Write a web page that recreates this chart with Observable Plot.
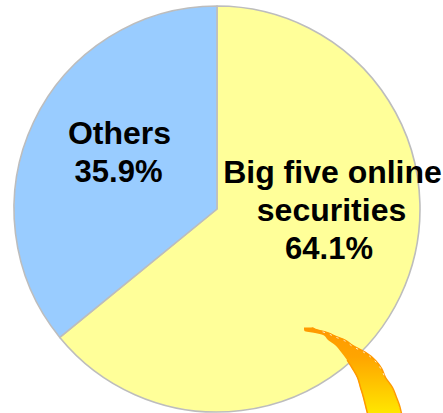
<!DOCTYPE html>
<html>
<head>
<meta charset="utf-8">
<style>
  html, body { margin: 0; padding: 0; background: #fff; }
  svg { display: block; }
</style>
<script src="https://cdn.jsdelivr.net/npm/d3@7"></script>
<script src="https://cdn.jsdelivr.net/npm/@observablehq/plot@0.6"></script>
</head>
<body>
<script>
// Market share of online securities brokers
const segments = ["Big five online securities", "Others"];
const shares = [64.1, 35.9];
const segmentColors = ["#ffff99", "#99ccff"];

// Decorative ribbon outline, measured top to bottom
const ribbonY = [327.5, 329, 331, 333, 335, 340, 345, 352, 360, 368, 377, 387, 397, 405, 413];
const ribbonLeft = [304, 304, 304.5, 315, 323, 328, 335, 341, 347, 352, 357, 360, 363, 365, 367];
const ribbonRight = [312, 315, 323, 329, 333, 345, 352, 365, 375, 381, 385, 392, 396, 399, 401];

const centerX = 217, centerY = 209, outerRadius = 203;

const slices = d3.pie().sort(null).value(d => d)(shares).map((a, i) => ({
  name: segments[i],
  startAngle: a.startAngle,
  endAngle: a.endAngle,
  cx: centerX,
  cy: centerY
}));

// One entry per printed line, so each can be centred on its own
const labels = [
  {x: 332, y: 172, text: "Big five online", size: 32},
  {x: 331, y: 210.5, text: "securities", size: 32},
  {x: 328.5, y: 249, text: shares[0].toFixed(1) + "%", size: 31},
  {x: 119, y: 133, text: "Others", size: 32},
  {x: 118, y: 172, text: shares[1].toFixed(1) + "%", size: 31}
];

const ribbon = ribbonY.map((y, i) => ({y, left: ribbonLeft[i], right: ribbonRight[i]}));

// Draws each slice with d3.arc, sized through the x scale and filled by the color scale
function renderSlices(index, scales, values) {
  const g = d3.create("svg:g");
  const r = scales.x(centerX + outerRadius) - scales.x(centerX);
  const arc = d3.arc().innerRadius(0).outerRadius(r);
  for (const i of index) {
    g.append("path")
      .attr("transform", `translate(${values.x[i]},${values.y[i]})`)
      .attr("d", arc(slices[i]))
      .attr("fill", values.fill[i])
      .attr("stroke", "#bdbdbd")
      .attr("stroke-width", 1.6)
      .attr("stroke-linejoin", "round");
  }
  return g.node();
}

const chart = Plot.plot({
  width: 443,
  height: 413,
  margin: 0,
  x: {domain: [0, 443], range: [0, 443], axis: null},
  y: {domain: [0, 413], range: [0, 413], axis: null},
  color: {domain: segments, range: segmentColors},
  marks: [
    Plot.dot(slices, {x: "cx", y: "cy", fill: "name", render: renderSlices}),
    Plot.areaX(ribbon, {
      y: "y", x1: "left", x2: "right",
      fill: "url(#ribbonFill)", curve: "monotone-y"
    }),
    Plot.line(ribbon, {x: "right", y: "y", stroke: "#ff9900", strokeWidth: 1.5, curve: "monotone-y"}),
    Plot.line(ribbon.slice(8), {x: "left", y: "y", stroke: "#ff9900", strokeWidth: 1.5, curve: "monotone-y"}),
    Plot.line(ribbon.slice(2, 11), {
      x: d => d.right - 0.5, y: d => d.y + 0.5,
      stroke: "#fff", strokeWidth: 0.8, strokeDasharray: "1.5 6", curve: "monotone-y"
    }),
    ...labels.map(d => Plot.text([d], {
      x: "x", y: "y", text: "text",
      fontFamily: "Liberation Sans, Arial, sans-serif",
      fontSize: d.size, fontWeight: "bold", fill: "#000"
    }))
  ]
});

// Vertical orange-to-yellow gradient used by the ribbon
const defs = d3.select(chart).insert("defs", ":first-child");
const gradient = defs.append("linearGradient")
  .attr("id", "ribbonFill")
  .attr("x1", 0).attr("y1", 0).attr("x2", 0).attr("y2", 1);
gradient.append("stop").attr("offset", "0%").attr("stop-color", "#ff9900");
gradient.append("stop").attr("offset", "35%").attr("stop-color", "#ffa500");
gradient.append("stop").attr("offset", "100%").attr("stop-color", "#ffe600");

document.body.append(chart);
</script>
</body>
</html>
